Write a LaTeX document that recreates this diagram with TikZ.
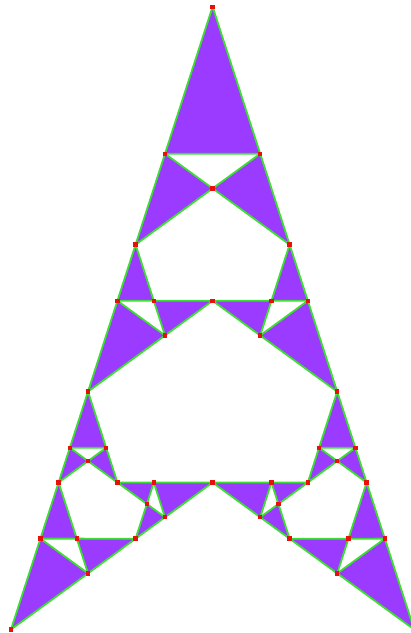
\documentclass[tikz,border=0pt]{standalone}
\usetikzlibrary{calc}
\definecolor{tripurple}{RGB}{155,59,255}
\definecolor{edgegreen}{RGB}{60,222,50}
\definecolor{dotred}{RGB}{232,16,10}
\tikzset{
  tri/.style={fill=tripurple,draw=edgegreen,line width=1.8pt,line join=round},
  dotmark/.style={fill=dotred}
}
\newcommand\gleaf[3]{\draw[tri] (#1)--(#2)--(#3)--cycle;}
\newcommand\gtri[5]{%
  \ifnum#1=0 \gleaf{#3}{#4}{#5}%
  \else
    \coordinate (#2D) at ($(#3)!0.6180340!(#4)$);
    \coordinate (#2E) at ($(#3)!0.6180340!(#5)$);
    \coordinate (#2M) at (intersection of #4--#2E and #5--#2D);
    \gtri{\the\numexpr#1-1\relax}{#2a}{#4}{#2D}{#2M}%
    \gtri{\the\numexpr#1-1\relax}{#2b}{#5}{#2E}{#2M}%
    \gtri{\the\numexpr#1-1\relax}{#2c}{#3}{#2D}{#2E}%
  \fi}
\begin{document}
\begin{tikzpicture}[x=1pt,y=-1pt]
  \useasboundingbox (0,0) rectangle (411,633);
  \clip (0,0) rectangle (411,633);
  \coordinate (A) at (212.6,6.7);
  \coordinate (B) at (11,629.5);
  \coordinate (C) at (414.2,629.5);
  \gtri{3}{r}{A}{B}{C}
  \renewcommand\gleaf[3]{%
    \foreach \p in {#1,#2,#3}{\fill[dotmark] ($(\p)+(-2.2,-2.2)$) rectangle ++(4.4,4.4);}}
  \gtri{3}{r}{A}{B}{C}
\end{tikzpicture}
\end{document}
